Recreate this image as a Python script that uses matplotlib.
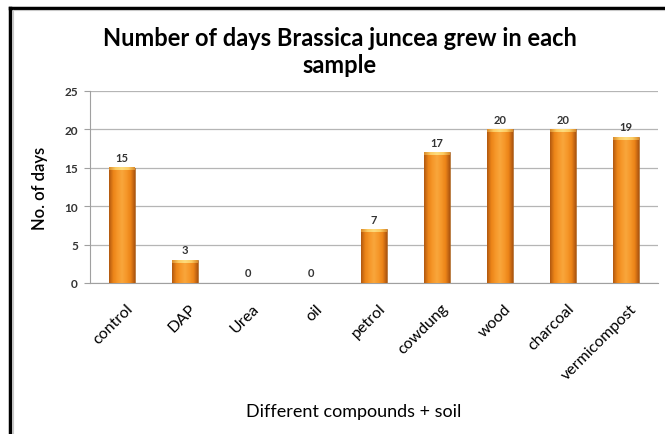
import numpy as np
import matplotlib
matplotlib.use("Agg")
import matplotlib.pyplot as plt
import matplotlib.transforms as mtransforms
from matplotlib.colors import LinearSegmentedColormap
from matplotlib.lines import Line2D

samples = ["control", "DAP", "Urea", "oil", "petrol", "cowdung",
           "wood", "charcoal", "vermicompost"]
days = [15, 3, 0, 0, 7, 17, 20, 20, 19]
yticks = [0, 5, 10, 15, 20, 25]

plt.rcParams['font.family'] = ['Lato', 'DejaVu Sans']

W, H = 665, 435
fig = plt.figure(figsize=(W / 100, H / 100), dpi=100)
ax = fig.add_axes([90.5 / W, 1 - 284 / H, 567 / W, 192 / H])

x = np.arange(len(samples))
bars = ax.bar(x, days, width=0.4, color="#F39A2E", zorder=2)

# horizontal shading of each bar: dark edges, bright middle
body = LinearSegmentedColormap.from_list(
    "body", ["#B05810", "#EC8418", "#F6982A", "#F9A63C", "#F6982A",
             "#EC8418", "#AC5410"])
cap = LinearSegmentedColormap.from_list(
    "cap", ["#D98A2A", "#FCCB62", "#FDDC7E", "#FCCB62", "#D98A2A"])
grad = np.linspace(0, 1, 256).reshape(1, -1)
for b, v in zip(bars, days):
    if v <= 0:
        continue
    x0, w = b.get_x(), b.get_width()
    im = ax.imshow(grad, cmap=body, aspect="auto",
                   extent=[x0, x0 + w, 0, v], zorder=3)
    im.set_clip_path(b)
    ax.imshow(grad, cmap=cap, aspect="auto",
              extent=[x0, x0 + w, v - 0.35, v], zorder=4)
    b.set_edgecolor("#8E4A12")
    b.set_linewidth(0.4)

for xi, v in zip(x, days):
    ax.text(xi, v + 0.6, str(v), ha="center", va="bottom",
            fontsize=8, fontweight="bold", color="#333333")

ax.set_xlim(-0.5, len(samples) - 0.5)
ax.set_ylim(0, 25)
ax.set_yticks(yticks)
ax.yaxis.grid(True, color="#B5B5B5", linewidth=0.9, zorder=0)
ax.set_axisbelow(True)
for s in ["top", "right"]:
    ax.spines[s].set_visible(False)
ax.spines["left"].set_color("#A0A0A0")
ax.spines["bottom"].set_color("#A0A0A0")
ax.tick_params(axis="y", length=4, color="#A0A0A0", labelsize=8.5,
               labelcolor="#333333", pad=5)
ax.tick_params(axis="x", length=0, labelsize=11.5, pad=13)
ax.set_xticks(x)
ax.set_xticklabels(samples, rotation=45, ha="right", rotation_mode="anchor")
shift = mtransforms.ScaledTranslation(4 / 100, 0, fig.dpi_scale_trans)
for lab in ax.get_xticklabels():
    lab.set_transform(lab.get_transform() + shift)
for lab in ax.get_yticklabels():
    lab.set_fontweight("bold")

ax.set_ylabel("No. of days", fontsize=12, fontweight="semibold", labelpad=12)
fig.text(354 / W, 1 - 412 / H, "Different compounds + soil",
         ha="center", va="center", fontsize=13)
fig.text(340 / W, 1 - 52 / H, "Number of days Brassica juncea grew in each\nsample",
         ha="center", va="center", fontsize=17, fontweight="bold",
         linespacing=1.25)

# black frame around the chart
ytop = 1 - 8.5 / H
xl = 10 / W
fig.add_artist(Line2D([xl, xl], [0, ytop], transform=fig.transFigure,
                      color="black", linewidth=2.5))
fig.add_artist(Line2D([xl, 1], [ytop, ytop], transform=fig.transFigure,
                      color="black", linewidth=2.5))
fig.add_artist(Line2D([12.5 / W, 12.5 / W], [0, 1 - 11 / H], transform=fig.transFigure,
                      color="#C8C8C8", linewidth=0.8))
fig.add_artist(Line2D([12.5 / W, 1], [1 - 11 / H, 1 - 11 / H], transform=fig.transFigure,
                      color="#C8C8C8", linewidth=0.8))

fig.savefig("out.png", dpi=100)
